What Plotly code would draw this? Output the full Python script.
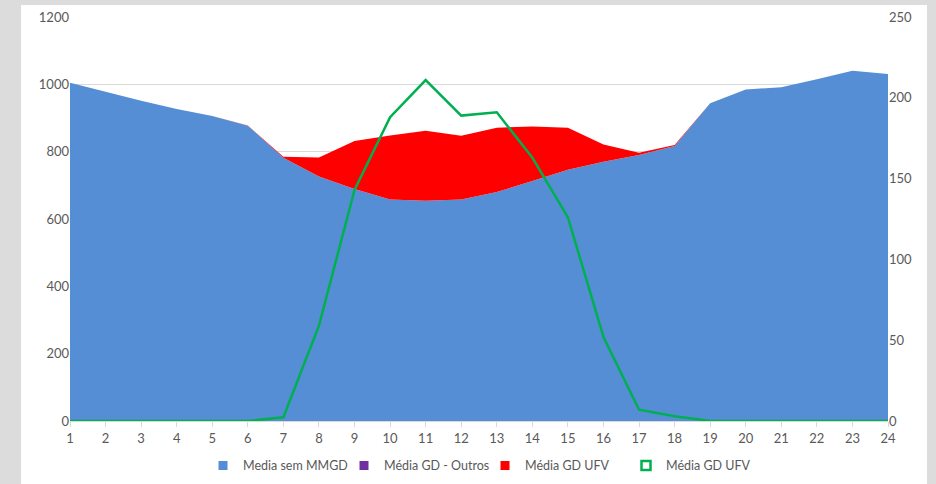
import plotly.graph_objects as go

hours = list(range(1, 25))
media_sem_mmgd = [1005, 978, 951, 927, 906, 877, 782, 726, 689, 658, 654, 658,
                  680, 713, 746, 770, 790, 817, 944, 985, 991, 1015, 1040, 1031]
gd_outros = [0] * 24
gd_ufv_area = [0, 0, 0, 0, 0, 0.5, 3, 57, 143, 190, 208, 189,
               191, 162, 125, 51, 7, 3, 0, 0, 0, 0, 0, 0]
gd_ufv_line = [0, 0, 0, 0, 0, 0, 2.3, 59, 143, 188, 211, 189,
               191, 163, 126, 52, 7, 3, 0, 0, 0, 0, 0, 0]

font_family = "Lato, 'Open Sans', sans-serif"
txt = "#595959"
c_blue, c_purple, c_red, c_green = "#558ED5", "#7030A0", "#FF0000", "#00B050"

fig = go.Figure()
fig.add_trace(go.Scatter(x=hours, y=media_sem_mmgd, name="Media sem MMGD",
                         stackgroup="one", mode="none", fillcolor=c_blue,
                         showlegend=False))
fig.add_trace(go.Scatter(x=hours, y=gd_outros, name="Média GD - Outros",
                         stackgroup="one", mode="none", fillcolor=c_purple,
                         showlegend=False))
fig.add_trace(go.Scatter(x=hours, y=gd_ufv_area, name="Média GD UFV",
                         stackgroup="one", mode="none", fillcolor=c_red,
                         showlegend=False))
fig.add_trace(go.Scatter(x=hours, y=gd_ufv_line, name="Média GD UFV",
                         mode="lines", line=dict(color=c_green, width=2.5),
                         yaxis="y2", showlegend=False))

# legend entries (square markers like the original)
for name, sym, col in [("Media sem MMGD", "square", c_blue),
                       ("Média GD - Outros", "square", c_purple),
                       ("Média GD UFV", "square", c_red),
                       ("Média GD UFV", "square-open", c_green)]:
    fig.add_trace(go.Scatter(x=[None], y=[None], mode="markers", name=name,
                             marker=dict(symbol=sym, size=9, color=col,
                                         line=dict(color=col, width=2.5 if sym == "square-open" else 0))))

fig.update_layout(
    width=936, height=484,
    margin=dict(l=70, r=48, t=17, b=63, autoexpand=False),
    paper_bgcolor="#DCDCDC",
    plot_bgcolor="white",
    font=dict(family=font_family, size=13, color=txt),
    shapes=[dict(type="rect", xref="paper", yref="paper",
                 x0=-0.0599, x1=1.0477, y0=-0.16, y1=1.0297,
                 fillcolor="white", line=dict(width=0), layer="below")],
    xaxis=dict(range=[1, 24], tickmode="array", tickvals=hours,
               ticktext=[str(h) for h in hours], showgrid=False,
               ticks="outside", ticklen=5, tickcolor="#D9D9D9",
               showline=True, linecolor="#D9D9D9", zeroline=False,
               automargin=False),
    yaxis=dict(range=[0, 1200], dtick=200, showgrid=True, gridcolor="#D9D9D9",
               zeroline=False, ticks="", showline=False, automargin=False),
    yaxis2=dict(range=[0, 250], dtick=50, overlaying="y", side="right",
                showgrid=False, zeroline=False, showline=False,
                automargin=False),
    legend=dict(orientation="h", x=0.1626, xanchor="left", y=-0.111,
                yanchor="middle", font=dict(size=12.5, color=txt),
                bgcolor="rgba(0,0,0,0)", traceorder="normal",
                itemwidth=30, entrywidth=96),
)

fig.write_html("out.html", config={"displayModeBar": False},
               post_script="document.body.style.margin='0px';document.body.style.padding='0px';")
